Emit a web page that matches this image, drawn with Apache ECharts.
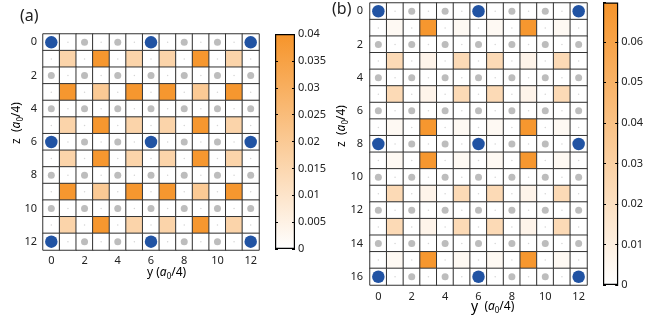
<!DOCTYPE html>
<html><head><meta charset="utf-8">
<script src="https://cdn.jsdelivr.net/npm/echarts@6/dist/echarts.min.js"></script>
<style>html,body{margin:0;padding:0;background:#fff;}#c{width:646px;height:320px;}</style>
</head><body><div id="c"></div>
<script>
// ---- data ----
const yLabels = ['0','1','2','3','4','5','6','7','8','9','10','11','12'];
const zLabelsA = ['0','1','2','3','4','5','6','7','8','9','10','11','12'];
const zLabelsB = ['0','1','2','3','4','5','6','7','8','9','10','11','12','13','14','15','16'];

// panel (a) cell values, rows = z, columns = y
const heatA = [
  [0,0,0,0,0,0,0,0,0,0,0,0,0],
  [0,0.016,0,0.039,0,0.016,0,0.016,0,0.039,0,0.016,0],
  [0,0,0,0,0,0,0,0,0,0,0,0,0],
  [0,0.039,0,0.02,0,0.039,0,0.039,0,0.02,0,0.039,0],
  [0,0,0,0,0,0,0,0,0,0,0,0,0],
  [0,0.016,0,0.039,0,0.016,0,0.016,0,0.039,0,0.016,0],
  [0,0,0,0,0,0,0,0,0,0,0,0,0],
  [0,0.016,0,0.039,0,0.016,0,0.016,0,0.039,0,0.016,0],
  [0,0,0,0,0,0,0,0,0,0,0,0,0],
  [0,0.039,0,0.02,0,0.039,0,0.039,0,0.02,0,0.039,0],
  [0,0,0,0,0,0,0,0,0,0,0,0,0],
  [0,0.016,0,0.039,0,0.016,0,0.016,0,0.039,0,0.016,0],
  [0,0,0,0,0,0,0,0,0,0,0,0,0]
];
// panel (b) cell values
const heatB = [
  [0,0,0,0,0,0,0,0,0,0,0,0,0],
  [0,0.004,0,0.068,0,0.004,0,0.004,0,0.068,0,0.004,0],
  [0,0,0,0,0,0,0,0,0,0,0,0,0],
  [0,0.024,0,0.007,0,0.024,0,0.024,0,0.007,0,0.024,0],
  [0,0,0,0,0,0,0,0,0,0,0,0,0],
  [0,0.024,0,0.007,0,0.024,0,0.024,0,0.007,0,0.024,0],
  [0,0,0,0,0,0,0,0,0,0,0,0,0],
  [0,0.004,0,0.068,0,0.004,0,0.004,0,0.068,0,0.004,0],
  [0,0,0,0,0,0,0,0,0,0,0,0,0],
  [0,0.004,0,0.068,0,0.004,0,0.004,0,0.068,0,0.004,0],
  [0,0,0,0,0,0,0,0,0,0,0,0,0],
  [0,0.024,0,0.007,0,0.024,0,0.024,0,0.007,0,0.024,0],
  [0,0,0,0,0,0,0,0,0,0,0,0,0],
  [0,0.024,0,0.007,0,0.024,0,0.024,0,0.007,0,0.024,0],
  [0,0,0,0,0,0,0,0,0,0,0,0,0],
  [0,0.004,0,0.068,0,0.004,0,0.004,0,0.068,0,0.004,0],
  [0,0,0,0,0,0,0,0,0,0,0,0,0]
];
// atom markers: B = large blue, g = grey, . = tiny dot
const atomsA = [
  'B.g.g.B.g.g.B',
  '. . . . . . .',
  'g.g.g.g.g.g.g',
  '. . . . . . .',
  'g.g.g.g.g.g.g',
  '. . . . . . .',
  'B.g.g.B.g.g.B',
  '. . . . . . .',
  'g.g.g.g.g.g.g',
  '. . . . . . .',
  'g.g.g.g.g.g.g',
  '. . . . . . .',
  'B.g.g.B.g.g.B'
];
const atomsB = [
  'B.g.g.B.g.g.B',
  '. . . . . . .',
  'g.g.g.g.g.g.g',
  '. . . . . . .',
  'g.g.g.g.g.g.g',
  '. . . . . . .',
  'g.g.g.g.g.g.g',
  '. . . . . . .',
  'B.g.g.B.g.g.B',
  '. . . . . . .',
  'g.g.g.g.g.g.g',
  '. . . . . . .',
  'g.g.g.g.g.g.g',
  '. . . . . . .',
  'g.g.g.g.g.g.g',
  '. . . . . . .',
  'B.g.g.B.g.g.B'
];
const maxA = 0.04, maxB = 0.0697;
const ticksStepA = 0.005, ticksStepB = 0.01;

// ---- build ----
const ORANGE = '#F6942A';
function cells(m){ const d=[]; m.forEach((row,z)=>row.forEach((v,y)=>d.push([y,z,v]))); return d; }
function pts(map,ch){ const d=[]; map.forEach((row,z)=>{ for(let y=0;y<row.length;y++) if(row[y]===ch) d.push([y,z]); }); return d; }

const FONT = 'Noto Sans';
const catX = (idx, data) => ({
  type:'category', gridIndex:idx, data:data, boundaryGap:true,
  axisLine:{show:false}, axisTick:{show:false}, splitLine:{show:false},
  axisLabel:{interval:1, color:'#222', fontFamily:FONT, fontSize:11, margin: idx===0?5:6}
});
const catY = (idx, data) => ({
  type:'category', gridIndex:idx, data:data, inverse:true, boundaryGap:true,
  axisLine:{show:false}, axisTick:{show:false}, splitLine:{show:false},
  axisLabel:{interval:1, color:'#222', fontFamily:FONT, fontSize:11, margin: idx===0?6:7}
});
const cbX = (idx) => ({type:'category', gridIndex:idx, data:['c'], show:false, boundaryGap:true});
const cbY = (idx, max, step, pos, labels, showMax) => ({
  type:'value', gridIndex:idx, min:0, max:max, interval:step, position:pos, z:5,
  axisLine:{show:false}, splitLine:{show:false},
  axisTick:{show:true, inside:true, length:3, lineStyle:{color:'#000'}},
  axisLabel:{show:labels, showMaxLabel:showMax, color:'#222', fontFamily:FONT, fontSize:11, margin:3,
    formatter: v => String(+v.toFixed(4))}
});

function heat(ix, data){
  return {type:'heatmap', xAxisIndex:ix, yAxisIndex:ix, data:data,
    itemStyle:{borderColor:'#333', borderWidth:1}, emphasis:{disabled:true}, silent:true};
}
function scat(ix, data, size, color){
  return {type:'scatter', xAxisIndex:ix, yAxisIndex:ix, data:data, symbolSize:size,
    itemStyle:{color:color, opacity:1}, silent:true, z:3};
}
function cbar(xi, yi, max){
  return {type:'bar', xAxisIndex:xi, yAxisIndex:yi, data:[max], barWidth:'100%', silent:true,
    itemStyle:{borderColor:'#000', borderWidth:1.2,
      color:new echarts.graphic.LinearGradient(0,0,0,1,[{offset:0,color:ORANGE},{offset:1,color:'#ffffff'}])}};
}

const sub = {
  n:{fontFamily:FONT, fontSize:12, color:'#222', lineHeight:16},
  i:{fontFamily:FONT, fontSize:12, fontStyle:'italic', color:'#222', lineHeight:16},
  s:{fontFamily:FONT, fontSize:8, color:'#222', lineHeight:8, verticalAlign:'bottom'}
};
const axTitle = '{n|(}{i|a}{s|0}{n|/4)}';

const chart = echarts.init(document.getElementById('c'), null, {renderer:'canvas'});
chart.setOption({
  animation:false,
  backgroundColor:'#fff',
  grid:[
    {left:43, top:34, width:216, height:216},
    {left:370, top:3, width:217, height:282},
    {left:275, top:34, width:20, height:215},
    {left:603, top:2.5, width:20, height:282.5}
  ],
  xAxis:[catX(0,yLabels), catX(1,yLabels), cbX(2), cbX(3)],
  yAxis:[catY(0,zLabelsA), catY(1,zLabelsB),
    cbY(2,maxA,ticksStepA,'right',true,true), cbY(2,maxA,ticksStepA,'left',false,true),
    cbY(3,maxB,ticksStepB,'right',true,false), cbY(3,maxB,ticksStepB,'left',false,false)],
  visualMap:[
    {type:'continuous', show:false, seriesIndex:0, dimension:2, min:0, max:maxA, inRange:{color:['#ffffff',ORANGE]}},
    {type:'continuous', show:false, seriesIndex:4, dimension:2, min:0, max:maxB, inRange:{color:['#ffffff',ORANGE]}}
  ],
  series:[
    heat(0, cells(heatA)),
    scat(0, pts(atomsA,'.'), 1.5, '#d6d6d6'),
    scat(0, pts(atomsA,'g'), 7, '#bdbdbd'),
    scat(0, pts(atomsA,'B'), 12.5, '#2153A3'),
    heat(1, cells(heatB)),
    scat(1, pts(atomsB,'.'), 1.5, '#d6d6d6'),
    scat(1, pts(atomsB,'g'), 7, '#bdbdbd'),
    scat(1, pts(atomsB,'B'), 12.5, '#2153A3'),
    cbar(2, 2, maxA),
    cbar(3, 4, maxB)
  ],
  graphic:[
    {type:'text', left:20, top:8, style:{text:'(a)', fontFamily:FONT, fontSize:16, fill:'#222'}},
    {type:'text', left:332, top:1, style:{text:'(b)', fontFamily:FONT, fontSize:16, fill:'#222'}},
    {type:'text', x:147, y:273, style:{text:'{n|y }'+axTitle, rich:sub, verticalAlign:'middle', align:'left'}},
    {type:'text', x:471, y:307, style:{text:'{y|y}{n|  }'+axTitle, rich:Object.assign({y:{fontFamily:FONT, fontSize:14, color:'#222', lineHeight:16}}, sub), verticalAlign:'middle', align:'left'}},
    {type:'text', x:17, y:123, rotation:Math.PI/2, style:{text:'{n|z  }'+axTitle, rich:sub, align:'center', verticalAlign:'middle'}},
    {type:'text', x:342, y:126, rotation:Math.PI/2, style:{text:'{n|z  }'+axTitle, rich:sub, align:'center', verticalAlign:'middle'}}
  ]
});
</script></body></html>
